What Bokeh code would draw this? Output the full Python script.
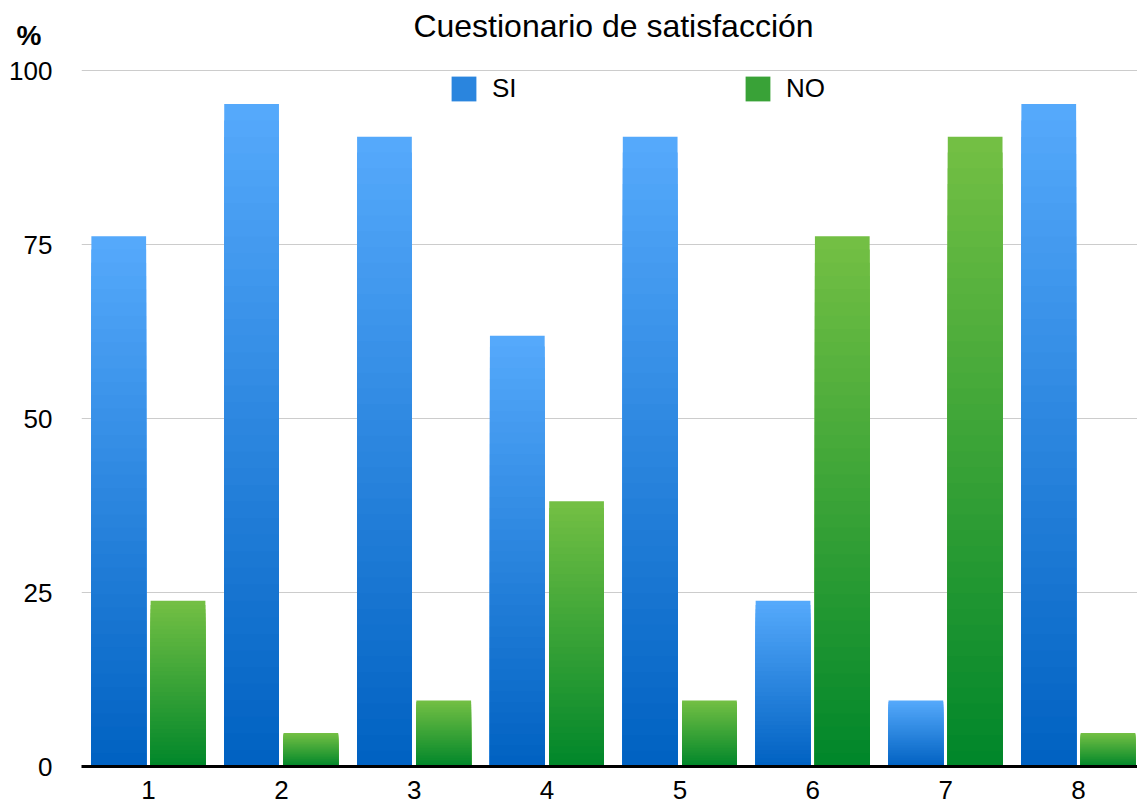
from bokeh.plotting import figure
from bokeh.layouts import column
from bokeh.models import (ColumnDataSource, Range1d, FixedTicker, Label, Legend, LegendItem)
from bokeh.embed import file_html
from bokeh.resources import INLINE

# ---- data ----
categories = [1, 2, 3, 4, 5, 6, 7, 8]
si_values = [76.2, 95.2, 90.5, 61.9, 90.5, 23.8, 9.5, 95.2]
no_values = [23.8, 4.8, 9.5, 38.1, 9.5, 76.2, 90.5, 4.8]
y_ticks = [0, 25, 50, 75, 100]
series_names = ["SI", "NO"]
title_text = "Cuestionario de satisfacción"
unit_text = "%"

# gradient end colours (top, bottom)
si_grad = ("#56aafc", "#0061c1")
no_grad = ("#74c044", "#00862a")

N = 40  # gradient steps


def hex2rgb(h):
    h = h.lstrip("#")
    return tuple(int(h[i:i + 2], 16) for i in (0, 2, 4))


def mix(c_top, c_bot, t):
    a, b = hex2rgb(c_top), hex2rgb(c_bot)
    r = [round(b[i] + (a[i] - b[i]) * t) for i in range(3)]
    return "#%02x%02x%02x" % tuple(r)


def gradient_source(values, offset, grad):
    xs, tops, colors = [], [], []
    for k in range(N, 0, -1):
        t = (k - 0.5) / N
        col = mix(grad[0], grad[1], t)
        for c, v in zip(categories, values):
            xs.append(c + offset)
            tops.append(v * k / N)
            colors.append(col)
    return ColumnDataSource(dict(x=xs, top=tops, color=colors))


FONT = "Liberation Sans"
LEFT = 81

# ---- header strip (title and unit) ----
HEAD_H = 55
head = figure(width=1137, height=HEAD_H, output_backend="svg", toolbar_location=None,
              x_range=Range1d(0, 1137 - LEFT), y_range=Range1d(0, HEAD_H),
              x_axis_type=None,
              min_border_left=LEFT, min_border_right=0, min_border_top=0, min_border_bottom=0)
head.outline_line_color = None
head.xgrid.grid_line_color = None
head.ygrid.grid_line_color = None
head.yaxis.ticker = FixedTicker(ticks=[HEAD_H - 35])
head.yaxis.major_label_overrides = {HEAD_H - 35: unit_text}
head.yaxis.axis_line_color = None
head.yaxis.major_tick_line_color = None
head.yaxis.minor_tick_line_color = None
head.yaxis.major_label_text_font = FONT
head.yaxis.major_label_text_font_size = "28px"
head.yaxis.major_label_text_font_style = "bold"
head.yaxis.major_label_text_color = "#000000"
head.yaxis.major_label_standoff = 34
head.add_layout(Label(x=613 - LEFT, y=HEAD_H - 25, text=title_text, text_align="center",
                      text_baseline="middle", text_font=FONT, text_font_size="32px",
                      text_color="#000000"))

# ---- main chart ----
p = figure(width=1137, height=805 - HEAD_H, output_backend="svg", toolbar_location=None,
           x_range=Range1d(0.4957, 8.444), y_range=Range1d(0, 100.15),
           min_border_left=LEFT, min_border_right=0, min_border_top=70 - HEAD_H - 1,
           min_border_bottom=39)
p.outline_line_color = None
p.background_fill_color = "white"
p.border_fill_color = "white"

bar_w = 0.412
r_si = p.vbar(x="x", top="top", bottom=0, width=bar_w, source=gradient_source(si_values, -0.224, si_grad),
              fill_color="color", line_color=None)
r_no = p.vbar(x="x", top="top", bottom=0, width=bar_w, source=gradient_source(no_values, 0.222, no_grad),
              fill_color="color", line_color=None)

mid = (N // 2) * len(categories)
for name, r, lx in [(series_names[0], r_si, 367), (series_names[1], r_no, 661)]:
    leg = Legend(items=[LegendItem(label=name, renderers=[r], index=mid)],
                 location=(lx, 662), orientation="horizontal",
                 glyph_width=31, glyph_height=31, label_standoff=13,
                 padding=0, margin=0, border_line_color=None,
                 background_fill_alpha=0, label_text_font=FONT,
                 label_text_font_size="26px", label_text_color="#000000")
    p.add_layout(leg, "center")

# axes
p.xaxis.ticker = FixedTicker(ticks=categories)
p.xaxis.major_tick_line_color = None
p.xaxis.minor_tick_line_color = None
p.xaxis.axis_line_color = "#000000"
p.xaxis.axis_line_width = 3
p.xaxis.major_label_text_font = FONT
p.xaxis.major_label_text_font_size = "26px"
p.xaxis.major_label_text_color = "#000000"
p.xaxis.major_label_standoff = 8

p.yaxis.ticker = FixedTicker(ticks=y_ticks)
p.yaxis.axis_line_color = None
p.yaxis.major_tick_line_color = None
p.yaxis.minor_tick_line_color = None
p.yaxis.major_label_text_font = FONT
p.yaxis.major_label_text_font_size = "26px"
p.yaxis.major_label_text_color = "#000000"
p.yaxis.major_label_standoff = 23

p.xgrid.grid_line_color = None
p.ygrid.grid_line_color = "#cccccc"
p.ygrid.grid_line_width = 1

layout = column(head, p, spacing=0)
open("out.html", "w").write(file_html(layout, INLINE))
